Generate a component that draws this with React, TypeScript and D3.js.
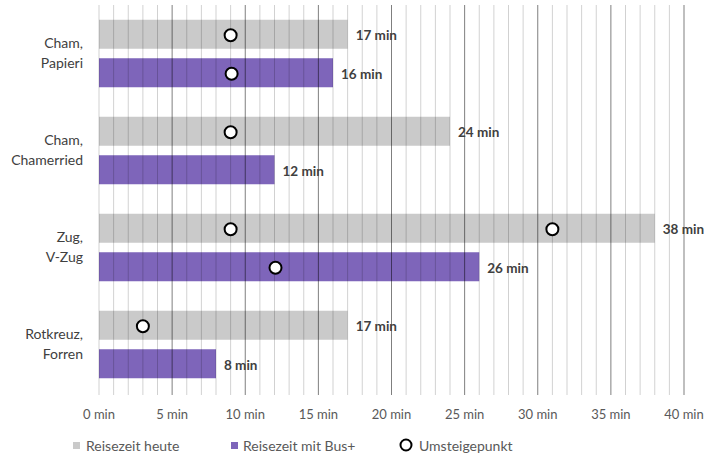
import React from "react";
import * as d3 from "d3";

const categories = [["Cham,", "Papieri"], ["Cham,", "Chamerried"], ["Zug,", "V-Zug"], ["Rotkreuz,", "Forren"]];
const heute = [17, 24, 38, 17];
const busPlus = [16, 12, 26, 8];
const umsteigeHeute = [[9], [9], [9, 31], [3]];
const umsteigeBus = [[9], [], [12], []];
const ticks = [0, 5, 10, 15, 20, 25, 30, 35, 40];
const seriesNames = ["Reisezeit heute", "Reisezeit mit Bus+", "Umsteigepunkt"];

const W = 709, H = 459;
const GREY = "#CACACA";
const PURPLE = "#7E65BA";
const FONT = "Lato, 'Open Sans', sans-serif";

export default function App() {
  const x = d3.scaleLinear().domain([0, 40]).range([99, 684]);
  const y = d3.scaleBand<number>().domain(d3.range(categories.length)).range([5, 393]);
  const barH = 29;
  const gap = 9.5;
  const minutes = d3.range(0, 41);

  return (
    <svg width={W} height={H} style={{ position: "absolute", left: 0, top: 0, fontFamily: FONT }}>
      <rect width={W} height={H} fill="#fff" />
      {categories.map((c, i) => {
        const cy = (y(i) as number) + y.bandwidth() / 2;
        const gy = cy - gap / 2 - barH;
        const py = cy + gap / 2;
        return (
          <g key={i}>
            <rect x={x(0)} y={gy} width={x(heute[i]) - x(0)} height={barH} fill={GREY} />
            <rect x={x(0)} y={py} width={x(busPlus[i]) - x(0)} height={barH} fill={PURPLE} />
          </g>
        );
      })}
      {minutes.map((m) => (
        <line
          key={m}
          x1={x(m)}
          x2={x(m)}
          y1={5}
          y2={395}
          stroke={m % 5 === 0 && m !== 0 ? "rgba(0,0,0,0.5)" : "rgba(0,0,0,0.18)"}
          strokeWidth={1}
        />
      ))}
      {categories.map((c, i) => {
        const cy = (y(i) as number) + y.bandwidth() / 2;
        const gy = cy - gap / 2 - barH;
        const py = cy + gap / 2;
        return (
          <g key={"l" + i}>
            <text x={x(heute[i]) + 8} y={gy + barH / 2 + 1.5} dy="0.35em" fontSize={13.5} fontWeight="bold" fill="#404040">
              {heute[i]} min
            </text>
            <text x={x(busPlus[i]) + 8} y={py + barH / 2 + 1.5} dy="0.35em" fontSize={13.5} fontWeight="bold" fill="#404040">
              {busPlus[i]} min
            </text>
            {umsteigeHeute[i].map((v, k) => (
              <circle key={"h" + k} cx={x(v)} cy={gy + barH / 2 + 1} r={6} fill="#fff" stroke="#000" strokeWidth={2} />
            ))}
            {umsteigeBus[i].map((v, k) => (
              <circle key={"b" + k} cx={x(v) + 1} cy={py + barH / 2 + 1} r={6} fill="#fff" stroke="#000" strokeWidth={2} />
            ))}
            <text x={83} y={cy - 10} textAnchor="end" fontSize={14} fill="#404040">
              <tspan x={83} dy="0.35em">{c[0]}</tspan>
              <tspan x={83} dy="20">{c[1]}</tspan>
            </text>
          </g>
        );
      })}
      {ticks.map((t) => (
        <text key={t} x={x(t)} y={414} dy="0.35em" textAnchor="middle" fontSize={13} fill="#595959">
          {t} min
        </text>
      ))}
      <g fontSize={14} fill="#595959">
        <rect x={73} y={442} width={7} height={7} fill={GREY} />
        <text x={86} y={446} dy="0.35em">{seriesNames[0]}</text>
        <rect x={231} y={442} width={7} height={7} fill={PURPLE} />
        <text x={243} y={446} dy="0.35em">{seriesNames[1]}</text>
        <circle cx={406} cy={445} r={5.5} fill="#fff" stroke="#000" strokeWidth={2} />
        <text x={419} y={446} dy="0.35em">{seriesNames[2]}</text>
      </g>
    </svg>
  );
}
